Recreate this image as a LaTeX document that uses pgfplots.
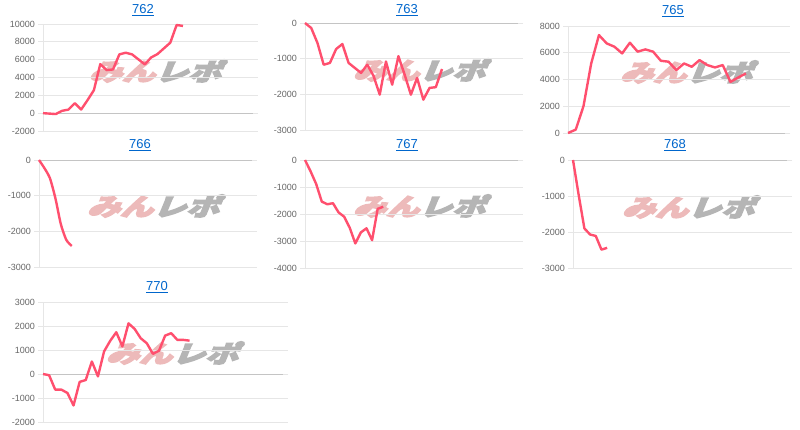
\documentclass[border=0pt]{standalone}
\usepackage{pgfplots}
\pgfplotsset{compat=1.18}
\usepackage{fontspec}
\setmainfont{Liberation Sans}
\newfontfamily\cjk[FakeSlant=0.3]{Noto Sans CJK JP}
\definecolor{linec}{HTML}{FF4F6E}
\definecolor{gridc}{HTML}{E6E6E6}
\definecolor{zeroc}{HTML}{C4C4C4}
\definecolor{tickc}{HTML}{666666}
\definecolor{linkc}{HTML}{0066CC}
\definecolor{wmpink}{HTML}{EDBABA}
\definecolor{wmgrey}{HTML}{B5B5B5}
\newcommand\wm{{\color{wmpink}みん}{\color{wmgrey}レポ}}
\pgfplotsset{
  panel/.style={
    scale only axis, anchor=south west, xmin=0,
    xtick=\empty, axis line style={draw=none}, scaled y ticks=false,
    ymajorgrids, grid style={gridc, line width=0.8pt},
    y tick style={gridc, line width=0.8pt}, major tick length=5pt, tick align=outside,
    yticklabel style={font=\fontsize{9}{10}\selectfont, text=tickc, inner sep=1pt, xshift=-2pt},
    extra x ticks={0}, extra x tick labels={},
    extra x tick style={xmajorgrids, grid style={gridc, line width=0.8pt}, major tick length=0pt},
    extra y ticks={0}, extra y tick labels={},
    extra y tick style={grid style={zeroc, line width=0.8pt}},
    clip=false,
  },
  ln/.style={linec, line width=2.4pt, line join=round, no marks},
}
\begin{document}
\begin{tikzpicture}[x=1pt,y=1pt]
\path[use as bounding box] (0,0) rectangle (800,430);
% watermarks
\foreach \cx/\cy in {155/359, 419/360, 686/358, 153/224, 419/224, 688/223, 172/77}{
  \node at (\cx,\cy) {\scalebox{1.1}[0.8]{\cjk\bfseries\fontsize{30}{30}\selectfont\special{pdf:literal direct 2 Tr 1.6 w}\wm\special{pdf:literal direct 0 Tr}}};
}
% titles
\foreach \tx/\ty/\tt in {143/420/762, 407/420/763, 673/419/765, 140/285/766, 407/285/767, 675/285/768, 157/143/770}{
  \node[font=\fontsize{13}{14}\selectfont, text=linkc] at (\tx,\ty) {\underline{\tt}};
}
% 762
\begin{axis}[panel, at={(43pt,299pt)}, width=210pt, height=107pt, xmax=33,
  ymin=-2000, ymax=10000, ytick={-2000,0,2000,4000,6000,8000,10000},
  yticklabels={-2000,0,2000,4000,6000,8000,10000}]
\addplot[ln] coordinates {(0,0)(1,-50)(2,-100)(3,260)(4,400)(5,1120)(6,410)(7,1460)(8,2580)(9,5500)(10,4830)(11,4900)(12,6590)(13,6780)(14,6590)(15,6030)(16,5470)(17,6250)(18,6630)(19,7270)(20,7900)(21,9890)(22,9780)};
\end{axis}
% 763
\begin{axis}[panel, at={(305pt,300pt)}, width=213pt, height=107pt, xmax=34.2,
  ymin=-3000, ymax=0, ytick={-3000,-2000,-1000,0},
  yticklabels={-3000,-2000,-1000,0}]
\addplot[ln] coordinates {(0,0)(1,-140)(2,-560)(3,-1170)(4,-1120)(5,-730)(6,-590)(7,-1120)(8,-1260)(9,-1400)(10,-1170)(11,-1480)(12,-2010)(13,-1080)(14,-1730)(15,-930)(16,-1450)(17,-2010)(18,-1540)(19,-2150)(20,-1820)(21,-1800)(22,-1290)};
\end{axis}
% 765
\begin{axis}[panel, at={(568pt,297pt)}, width=217pt, height=107pt, xmax=28.05,
  ymin=0, ymax=8000, ytick={0,2000,4000,6000,8000},
  yticklabels={0,2000,4000,6000,8000}]
\addplot[ln] coordinates {(0,0)(1,250)(2,2000)(3,5200)(4,7320)(5,6700)(6,6450)(7,5950)(8,6750)(9,6080)(10,6250)(11,6080)(12,5400)(13,5330)(14,4700)(15,5200)(16,4950)(17,5450)(18,5080)(19,4900)(20,5080)(21,3820)(22,4150)(23,4450)};
\end{axis}
% 766
\begin{axis}[panel, at={(39pt,163pt)}, width=213pt, height=107pt, xmax=39,
  ymin=-3000, ymax=0, ytick={-3000,-2000,-1000,0},
  yticklabels={-3000,-2000,-1000,0}]
\addplot[ln, smooth, tension=0.4] coordinates {(0,0)(1,-230)(2,-510)(3,-1070)(4,-1800)(5,-2240)(6,-2410)};
\end{axis}
% 767
\begin{axis}[panel, at={(305pt,162pt)}, width=213pt, height=108pt, xmax=38.1,
  ymin=-4000, ymax=0, ytick={-4000,-3000,-2000,-1000,0},
  yticklabels={-4000,-3000,-2000,-1000,0}]
\addplot[ln] coordinates {(0,0)(1,-420)(2,-890)(3,-1540)(4,-1640)(5,-1600)(6,-1940)(7,-2100)(8,-2510)(9,-3090)(10,-2680)(11,-2530)(12,-2970)(13,-1810)(14,-1730)};
\end{axis}
% 768
\begin{axis}[panel, at={(573pt,162pt)}, width=214pt, height=108pt, xmax=37.6,
  ymin=-3000, ymax=0, ytick={-3000,-2000,-1000,0},
  yticklabels={-3000,-2000,-1000,0}]
\addplot[ln] coordinates {(0,0)(1,-975)(2,-1900)(3,-2070)(4,-2110)(5,-2490)(6,-2440)};
\end{axis}
% 770
\begin{axis}[panel, at={(43pt,8pt)}, width=240pt, height=120pt, xmax=39.3,
  ymin=-2000, ymax=3000, ytick={-2000,-1000,0,1000,2000,3000},
  yticklabels={-2000,-1000,0,1000,2000,3000}]
\addplot[ln] coordinates {(0,0)(1,-50)(2,-650)(3,-650)(4,-790)(5,-1310)(6,-330)(7,-250)(8,520)(9,-100)(10,940)(11,1380)(12,1740)(13,1150)(14,2110)(15,1880)(16,1490)(17,1280)(18,840)(19,970)(20,1600)(21,1700)(22,1420)(23,1420)(24,1390)};
\end{axis}
\end{tikzpicture}
\end{document}
